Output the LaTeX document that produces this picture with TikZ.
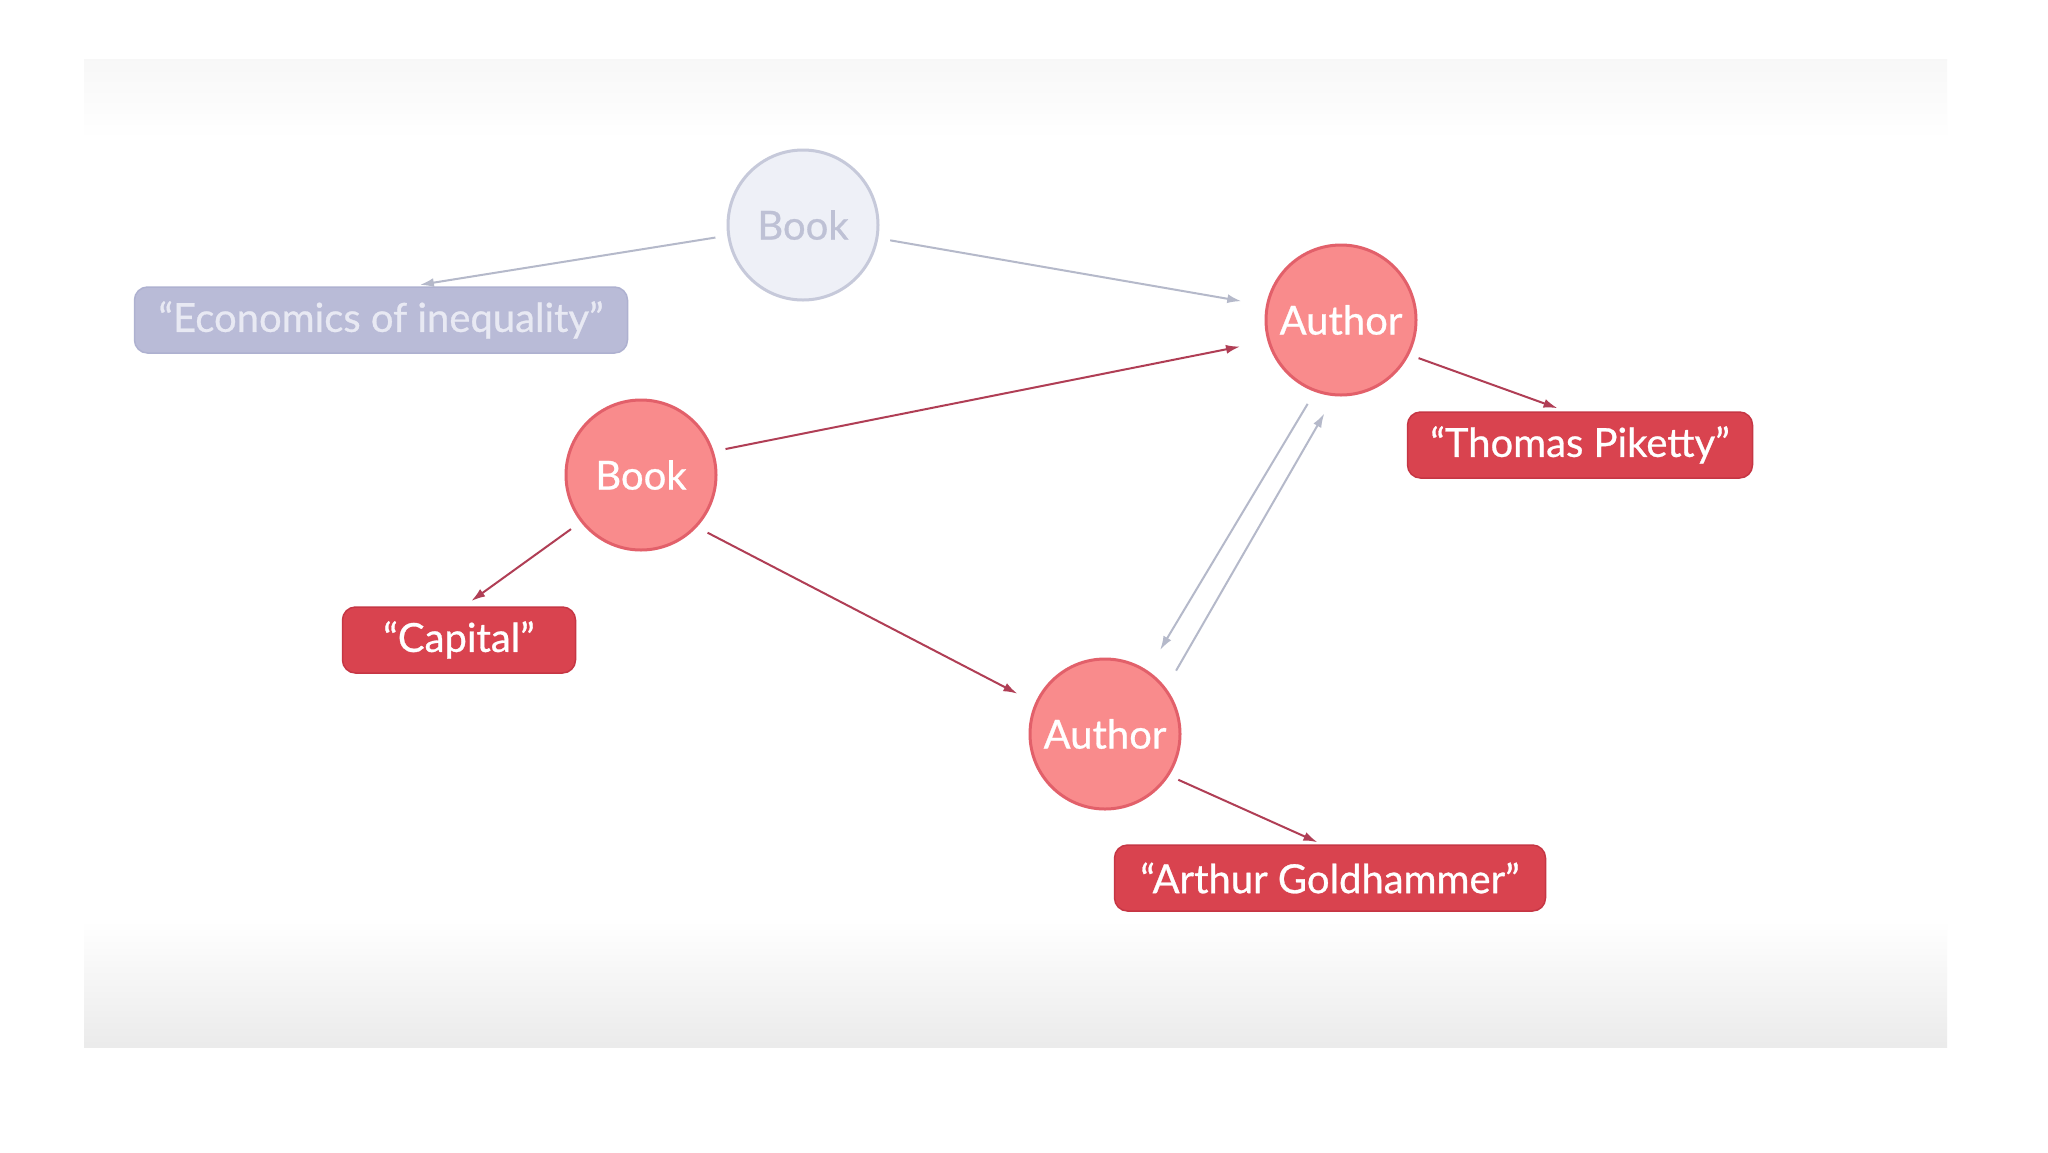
\documentclass[tikz,border=0pt]{standalone}
\usepackage{fontspec}
\setmainfont{Lato}
\newfontfamily\labelfont{Lato}[FakeBold=0.7]
\usetikzlibrary{arrows.meta}
\definecolor{cfill}{HTML}{F98B8C}
\definecolor{cborder}{HTML}{E2606A}
\definecolor{bfill}{HTML}{D9434F}
\definecolor{bborder}{HTML}{C63644}
\definecolor{redge}{HTML}{B03E55}
\definecolor{gfill}{HTML}{EEF0F7}
\definecolor{gborder}{HTML}{C6C9DA}
\definecolor{gtext}{HTML}{BEC1D5}
\definecolor{efill}{HTML}{B9BBD7}
\definecolor{eborder}{HTML}{AEB1D0}
\definecolor{etext}{HTML}{E8E9F3}
\definecolor{gedge}{HTML}{B5B9CA}
\tikzset{
  txt/.style={font=\labelfont\fontsize{40}{48}\selectfont},
  rcircle/.style={circle, minimum size=150, inner sep=0, fill=cfill, draw=cborder, line width=3, text=white, txt},
  gcircle/.style={circle, minimum size=150, inner sep=0, fill=gfill, draw=gborder, line width=3, text=gtext, txt},
  rbox/.style={rounded corners=13, minimum height=66, inner xsep=14, fill=bfill, draw=bborder, line width=1.5, text=white, txt},
  gbox/.style={rounded corners=13, minimum height=66, inner xsep=14, fill=efill, draw=eborder, line width=1.5, text=etext, txt},
  redarrow/.style={draw=redge, line width=2, -{Latex[length=14,width=9]}},
  greyarrow/.style={draw=gedge, line width=2, -{Latex[length=14,width=9]}}
}
\begin{document}
\begin{tikzpicture}[x=1pt,y=-1pt]
\useasboundingbox (0,0) rectangle (2048,1152);
\fill[white] (0,0) rectangle (2048,1152);
\fill[white] (84,59) rectangle (1947,1047);
\shade[top color=black!3, bottom color=white] (84,59) rectangle (1947,140);
\shade[top color=white, bottom color=black!8] (84,920) rectangle (1947,1047);

\node[gcircle] (gbook) at (803,225) {Book};
\node[gbox, minimum width=493] (econ) at (381,320) {“Economics of inequality”};
\node[rcircle] (auth1) at (1341,320) {Author};
\node[rbox, minimum width=345] (thomas) at (1580,445) {“Thomas Piketty”};
\node[rcircle] (book) at (641,475) {Book};
\node[rbox, minimum width=233] (capital) at (459,640) {“Capital”};
\node[rcircle] (auth2) at (1105,734) {Author};
\node[rbox, minimum width=431] (arthur) at (1330,878) {“Arthur Goldhammer”};

\draw[greyarrow, shorten <=12, shorten >=9] (gbook.188) -- ([xshift=30pt]econ.north);
\draw[greyarrow, shorten <=12, shorten >=25] (gbook.350) -- (auth1.169);
\draw[redarrow, shorten <=12, shorten >=28] (book.18) -- (auth1.196);
\draw[redarrow, shorten <=12, shorten >=9] (book.218) -- ([xshift=5pt]capital.north);
\draw[redarrow, shorten <=12, shorten >=20] (book.317) -- (auth2.156);
\draw[redarrow, shorten <=10, shorten >=9] (auth1.333) -- ([xshift=-14pt]thomas.north);
\draw[redarrow, shorten <=10, shorten >=5] (auth2.327) -- ([xshift=-8pt]arthur.north);
\draw[greyarrow, shorten <=14, shorten >=24] (auth1.250) -- (auth2.56);
\draw[greyarrow, shorten <=20, shorten >=20] (auth2.37) -- (auth1.265);
\end{tikzpicture}
\end{document}
